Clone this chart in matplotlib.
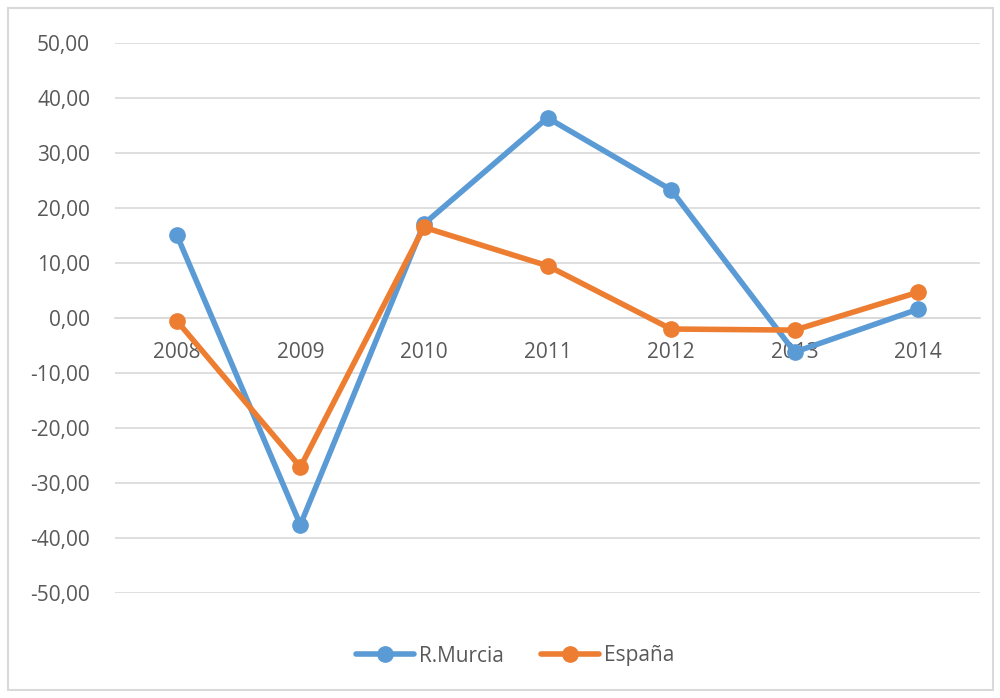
import matplotlib
matplotlib.use("Agg")
import matplotlib.pyplot as plt
from matplotlib.patches import Rectangle
from matplotlib.ticker import FuncFormatter

anios = ["2008", "2009", "2010", "2011", "2012", "2013", "2014"]
murcia = [15.1, -37.6, 17.1, 36.4, 23.3, -6.2, 1.6]
espana = [-0.5, -27.1, 16.5, 9.5, -2.0, -2.2, 4.7]
y_ticks = [-50, -40, -30, -20, -10, 0, 10, 20, 30, 40, 50]

AZUL = "#5B9BD5"
NARANJA = "#ED7D31"
GRIS_TXT = "#595959"
GRIS_REJ = "#D9D9D9"

plt.rcParams["font.family"] = ["Open Sans", "DejaVu Sans"]

fig = plt.figure(figsize=(10, 6.98), dpi=100)
ax = fig.add_axes([0.115, 0.1504, 0.865, 0.788])

x = list(range(len(anios)))
ax.plot(x, murcia, color=AZUL, lw=4, marker="o", ms=11, label="R.Murcia",
        solid_joinstyle="round", solid_capstyle="round")
ax.plot(x, espana, color=NARANJA, lw=4, marker="o", ms=11, label="España",
        solid_joinstyle="round", solid_capstyle="round")

ax.set_xlim(-0.5, len(anios) - 0.5)
ax.set_ylim(-50, 50)
ax.set_yticks(y_ticks)
ax.yaxis.set_major_formatter(FuncFormatter(lambda v, p: f"{v:.2f}".replace(".", ",")))
ax.set_xticks(x)
ax.set_xticklabels(anios)

ax.grid(axis="y", color=GRIS_REJ, lw=1.2)
ax.set_axisbelow(True)
for s in ["top", "right", "left"]:
    ax.spines[s].set_visible(False)
ax.spines["bottom"].set_position(("data", 0))
ax.spines["bottom"].set_color(GRIS_REJ)
ax.spines["bottom"].set_linewidth(1.2)
ax.spines["bottom"].set_zorder(0)
ax.tick_params(axis="x", length=0, pad=17, labelsize=15, labelcolor=GRIS_TXT)
ax.tick_params(axis="y", length=0, pad=18, labelsize=15, labelcolor=GRIS_TXT)

leg = fig.legend(loc="center", bbox_to_anchor=(0.515, 1 - 656 / 698), ncol=2,
                 frameon=False, fontsize=15, handlelength=2.8, columnspacing=1.8,
                 handletextpad=0.2)
for t in leg.get_texts():
    t.set_color(GRIS_TXT)

fig.patches.append(Rectangle((8 / 1000, 1 - 690 / 698), 985 / 1000, 682 / 698,
                             transform=fig.transFigure, fill=False,
                             edgecolor="#D9D9D9", lw=1.5))

fig.savefig("out.png", dpi=100)
